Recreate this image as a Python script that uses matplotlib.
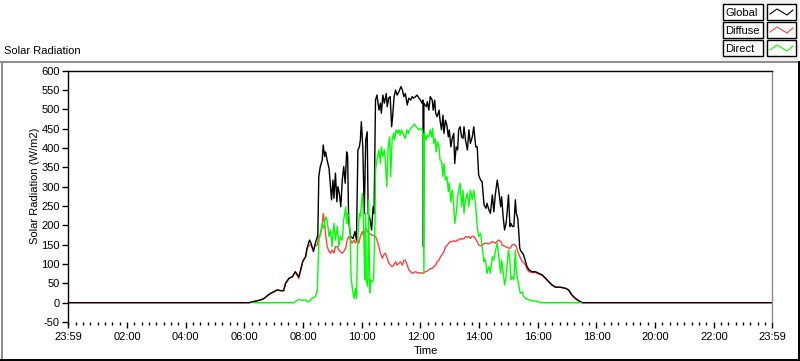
import numpy as np
import matplotlib
matplotlib.use("Agg")
import matplotlib.pyplot as plt
from matplotlib.lines import Line2D
from matplotlib.patches import Rectangle
from matplotlib.ticker import MultipleLocator, FixedLocator

plt.rcParams['font.family'] = ['Liberation Sans', 'DejaVu Sans']
plt.rcParams['font.size'] = 8.
plt.rcParams['axes.linewidth'] = 1.0
plt.rcParams['axes.unicode_minus'] = False

# minutes since midnight and W/m2
global_min = [0, 370, 379, 393, 400, 413, 420, 427, 434, 440, 444, 451, 458, 464, 471, 475, 479, 485,
              488, 493, 496, 501, 505, 510, 512, 515, 519, 521, 524, 526, 529, 533, 536, 538, 541, 543,
              546, 549, 551, 554, 557, 560, 563, 566, 569, 571, 573, 577, 582, 586, 589, 592, 595, 597,
              599, 602, 605, 608, 611, 613, 617, 620, 623, 625, 628, 631, 635, 638, 640, 643, 646, 650,
              652, 655, 658, 661, 663, 666, 669, 672, 676, 680, 683, 686, 689, 693, 696, 700, 703, 706,
              710, 713, 717, 720, 723, 725, 726, 727, 732, 734, 737, 740, 744, 746, 749, 751, 754, 758,
              760, 763, 766, 768, 771, 774, 777, 779, 782, 785, 788, 790, 793, 796, 798, 801, 804, 807,
              809, 812, 816, 819, 822, 826, 829, 833, 836, 839, 843, 846, 850, 854, 856, 860, 863, 867,
              870, 873, 877, 880, 884, 886, 889, 892, 895, 897, 900, 903, 905, 908, 911, 914, 916, 919,
              921, 923, 926, 929, 931, 935, 938, 942, 948, 955, 962, 969, 976, 983, 989, 996, 1006, 1017,
              1023, 1030, 1037, 1044, 1051, 1439]
global_wm2 = [0, 0, 3, 7, 11, 24, 28, 33, 31, 31, 50, 63, 67, 80, 67, 85, 106, 119,
              141, 162, 154, 132, 154, 175, 326, 352, 369, 408, 378, 390, 369, 347, 300, 266, 317, 270,
              335, 261, 300, 283, 248, 317, 352, 309, 390, 378, 214, 171, 166, 184, 162, 395, 403, 421,
              468, 403, 231, 421, 442, 231, 214, 188, 248, 231, 524, 537, 498, 516, 490, 537, 516, 541,
              507, 529, 533, 455, 481, 533, 550, 537, 546, 559, 550, 533, 541, 511, 529, 524, 533, 529,
              533, 537, 529, 524, 516, 524, 145, 516, 507, 520, 498, 533, 524, 498, 524, 490, 481, 498,
              472, 447, 485, 438, 472, 459, 429, 447, 403, 425, 438, 360, 403, 395, 447, 455, 429, 425,
              455, 421, 395, 447, 412, 429, 455, 403, 403, 330, 317, 313, 253, 244, 257, 240, 231, 279,
              235, 279, 317, 291, 248, 274, 222, 188, 205, 231, 279, 197, 205, 197, 197, 266, 231, 218,
              184, 141, 132, 128, 123, 106, 93, 85, 80, 80, 76, 72, 63, 54, 46, 40, 40, 37,
              33, 20, 11, 5, 0, 0]

diffuse_min = [0, 370, 379, 393, 400, 413, 420, 427, 434, 440, 444, 451, 458, 464, 471, 475, 479, 485,
               488, 493, 496, 501, 505, 509, 512, 515, 519, 521, 524, 526, 529, 533, 536, 539, 543, 546,
               550, 553, 556, 560, 563, 567, 570, 573, 577, 580, 584, 587, 591, 594, 597, 601, 604, 608,
               614, 621, 628, 631, 635, 638, 642, 645, 648, 652, 655, 659, 662, 665, 669, 672, 676, 679,
               683, 686, 689, 693, 696, 700, 703, 706, 710, 713, 717, 720, 723, 727, 730, 734, 737, 740,
               744, 747, 751, 754, 758, 761, 764, 768, 771, 775, 778, 781, 785, 788, 792, 795, 798, 802,
               805, 809, 812, 816, 819, 822, 826, 829, 833, 836, 839, 843, 846, 853, 860, 867, 873, 880,
               884, 887, 894, 901, 904, 907, 912, 916, 919, 923, 928, 931, 935, 938, 942, 948, 955, 962,
               969, 976, 983, 989, 996, 1006, 1017, 1023, 1030, 1037, 1044, 1051, 1439]
diffuse_wm2 = [0, 0, 3, 7, 11, 24, 28, 33, 31, 31, 50, 63, 67, 80, 62, 85, 106, 119,
               141, 149, 149, 136, 149, 149, 171, 175, 197, 231, 205, 175, 145, 132, 128, 136, 128, 145,
               145, 136, 132, 128, 132, 141, 162, 171, 162, 154, 162, 154, 162, 154, 171, 184, 171, 192,
               179, 175, 171, 162, 145, 128, 115, 124, 128, 115, 102, 97, 93, 97, 106, 97, 102, 106,
               97, 110, 110, 97, 85, 80, 76, 78, 80, 78, 76, 78, 76, 78, 80, 82, 85, 88,
               89, 93, 97, 106, 110, 119, 124, 132, 145, 149, 154, 158, 158, 160, 158, 162, 162, 166,
               164, 166, 171, 169, 171, 166, 172, 171, 164, 158, 149, 147, 149, 154, 152, 158, 154, 162,
               158, 149, 145, 141, 141, 149, 151, 145, 132, 119, 106, 104, 97, 86, 80, 78, 78, 74,
               70, 62, 52, 45, 40, 40, 37, 32, 18, 10, 4, 0, 0]

direct_min = [378, 462, 466, 471, 478, 485, 488, 493, 498, 505, 509, 512, 515, 519, 522, 526, 529, 533,
              536, 539, 543, 546, 550, 553, 556, 560, 563, 567, 569, 570, 574, 576, 578, 581, 584, 587,
              589, 592, 595, 597, 601, 603, 606, 608, 609, 612, 614, 616, 618, 621, 624, 627, 628, 631,
              635, 638, 640, 643, 646, 648, 651, 654, 657, 659, 662, 665, 667, 670, 673, 676, 678, 681,
              684, 687, 689, 692, 695, 698, 700, 703, 706, 708, 711, 714, 717, 720, 723, 725, 727, 728,
              732, 734, 737, 740, 743, 745, 747, 750, 752, 755, 758, 760, 763, 766, 768, 771, 774, 777,
              779, 782, 785, 788, 790, 793, 796, 798, 801, 804, 807, 809, 812, 816, 819, 822, 826, 829,
              833, 836, 839, 843, 846, 850, 851, 854, 856, 860, 863, 867, 870, 873, 877, 880, 884, 886,
              889, 892, 895, 897, 900, 903, 905, 908, 911, 914, 916, 919, 922, 924, 928, 931, 935, 942,
              948, 955, 962, 965, 1048]
direct_wm2 = [0, 0, 5, 8, 6, 7, 2, 4, 11, 16, 33, 154, 179, 205, 192, 222, 214, 171,
              188, 145, 205, 162, 197, 145, 171, 162, 214, 248, 205, 231, 222, 179, 67, 33, 11, 37,
              11, 171, 231, 222, 283, 231, 59, 231, 59, 42, 266, 25, 59, 54, 59, 214, 343, 369,
              395, 360, 403, 378, 395, 369, 300, 403, 429, 326, 421, 438, 421, 447, 438, 447, 433, 447,
              438, 429, 425, 447, 438, 447, 451, 455, 459, 462, 455, 451, 447, 451, 447, 438, 76, 438,
              421, 433, 429, 447, 429, 451, 412, 425, 390, 416, 403, 369, 365, 326, 360, 317, 326, 287,
              309, 261, 291, 248, 205, 231, 274, 291, 309, 248, 291, 231, 266, 283, 248, 291, 266, 291,
              248, 197, 171, 179, 145, 106, 115, 102, 76, 93, 76, 119, 110, 132, 154, 119, 76, 110,
              80, 46, 67, 93, 136, 110, 59, 67, 59, 136, 80, 59, 37, 24, 28, 16, 11, 7,
              5, 4, 2, 0, 0]

y_ticks = list(range(-50, 601, 50))
x_tick_labels = ["23:59", "02:00", "04:00", "06:00", "08:00", "10:00", "12:00",
                 "14:00", "16:00", "18:00", "20:00", "22:00", "23:59"]
legend_names = ["Global", "Diffuse", "Direct"]
legend_colors = ["#000000", "#ff4040", "#00ff00"]

W, H = 800, 361


def px(x, y):
    """Image pixel position to figure fraction."""
    return x / W, 1 - y / H


fig = plt.figure(figsize=(W / 100, H / 100), dpi=100)
ax = fig.add_axes([68 / W, 1 - 322 / H, 704 / W, (322 - 70.7) / H])

ax.plot(np.array(diffuse_min) / 60, diffuse_wm2, color=legend_colors[1], lw=1.0, zorder=1)
ax.plot(np.array(global_min) / 60, global_wm2, color=legend_colors[0], lw=1.0, zorder=2)
ax.plot(np.array(direct_min) / 60, direct_wm2, color=legend_colors[2], lw=1.0, zorder=3)

ax.set_xlim(-1 / 60, 24 - 1 / 60)
ax.set_ylim(-50, 600)
ax.set_yticks(y_ticks)
ax.xaxis.set_major_locator(FixedLocator([-1 / 60] + list(range(2, 23, 2)) + [24 - 1 / 60]))
ax.set_xticklabels(x_tick_labels)
ax.xaxis.set_minor_locator(MultipleLocator(0.25))

ax.spines['bottom'].set_visible(False)
ax.spines['right'].set_color('#8c8c8c')
ax.tick_params(axis='y', direction='out', length=4, width=1, pad=2, labelsize=8)
ax.tick_params(axis='x', which='major', direction='out', length=4.5, width=1, pad=3, labelsize=8)
ax.tick_params(axis='x', which='minor', direction='out', length=2.5, width=1)

ax.set_ylabel("Solar Radiation (W/m2)", fontsize=8)
ax.yaxis.set_label_coords(-0.04, 0.54)
ax.set_xlabel("Time", fontsize=8)
ax.xaxis.set_label_coords(0.508, -0.095)

# panel frame and title
fig.add_artist(Rectangle(px(721, 61), 78 / W, 61 / H, transform=fig.transFigure,
                         facecolor='#f0f0f0', edgecolor='none', zorder=0))
fig.add_artist(Line2D([0, 1], [1 - 61.5 / H] * 2, color='#8c8c8c', lw=1.4))
fig.add_artist(Line2D([1.5 / W] * 2, [1 - 61.5 / H, 0], color='#8c8c8c', lw=1.4))
fig.add_artist(Line2D([0, 1], [1 - 360 / H] * 2, color='black', lw=1.4))
fig.add_artist(Line2D([798.5 / W] * 2, [1 - 61.5 / H, 0], color='black', lw=1.4))
fig.text(*px(4, 51), "Solar Radiation", fontsize=8, va='center', ha='left')

# legend rows: label box plus a little sample box
for i, (name, col) in enumerate(zip(legend_names, legend_colors)):
    top = 4 + i * 18
    fig.add_artist(Rectangle(px(723, top + 16), 40 / W, 16 / H, transform=fig.transFigure,
                             facecolor='white', edgecolor='black', lw=1))
    fig.text(*px(725, top + 8.5), name, fontsize=8, va='center', ha='left')
    fig.add_artist(Rectangle(px(767, top + 16), 29 / W, 16 / H, transform=fig.transFigure,
                             facecolor='white', edgecolor='black', lw=1))
    sx = [770, 777, 787, 793]
    sy = [top + 10, top + 5, top + 11, top + 6]
    fig.add_artist(Line2D([v / W for v in sx], [1 - v / H for v in sy], color=col, lw=0.8))

fig.savefig("out.png", dpi=100)
